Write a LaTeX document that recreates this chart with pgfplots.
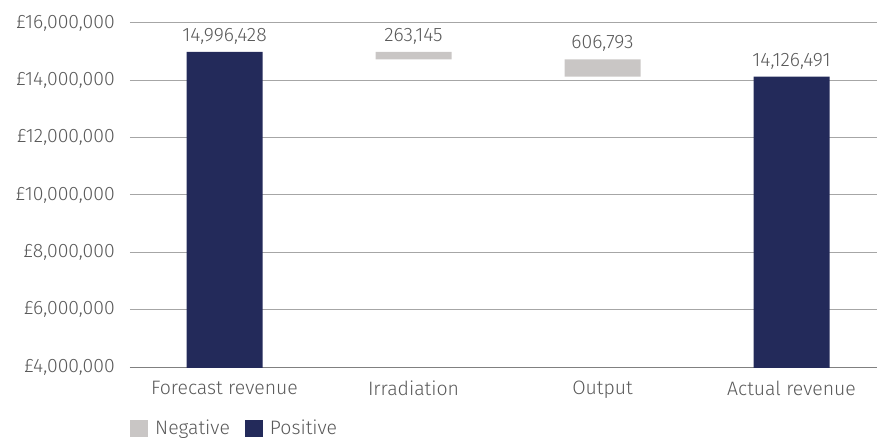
\documentclass[border=0pt]{standalone}
\usepackage{pgfplots}
\pgfplotsset{compat=1.18}
\usepackage{fontspec}
\setmainfont{Fira Sans Light}
\definecolor{navy}{HTML}{232A5A}
\definecolor{negc}{HTML}{C9C6C5}
\definecolor{txt}{HTML}{595959}
\definecolor{gridc}{HTML}{A6A6A6}
\definecolor{axc}{HTML}{808080}
\begin{document}
\fontsize{19.5}{22}\selectfont
\begin{tikzpicture}
\begin{axis}[
    at={(0,0)}, anchor=south west,
    scale only axis,
    width=746.6bp, height=344bp,
    ybar stacked, bar width=76bp,
    xmin=-0.5, xmax=3.45,
    ymin=4000000, ymax=16000000,
    enlargelimits=false,
    scaled y ticks=false,
    xtick=data,
    xticklabels={Forecast revenue, Irradiation, Output, Actual revenue},
    ytick={4000000,6000000,8000000,10000000,12000000,14000000,16000000},
    yticklabels={{£4,000,000},{£6,000,000},{£8,000,000},{£10,000,000},{£12,000,000},{£14,000,000},{£16,000,000}},
    ymajorgrids, grid style={gridc, line width=1bp},
    axis x line*=bottom, axis y line*=left,
    x axis line style={axc, line width=1bp, -},
    y axis line style={draw=none},
    major tick length=0pt,
    tick label style={font=\fontsize{19.5}{22}\selectfont, text=txt},
    yticklabel style={inner sep=0pt, xshift=-15bp},
    xticklabel style={inner sep=0pt, yshift=-14bp},
    legend style={at={(0,0)}, anchor=north west, yshift=-51bp, draw=none, fill=none,
        inner sep=0pt, font=\fontsize{19.5}{22}\selectfont, text=txt,
        /tikz/every odd column/.append style={column sep=0bp},
        /tikz/every even column/.append style={column sep=8bp},
        nodes={inner xsep=7bp}},
    legend columns=2,
    legend image code/.code={\path[#1] (0bp,-8bp) rectangle (18bp,9bp);},
]
% invisible base
\addplot[draw=none, fill=none, forget plot] coordinates {(0,0) (1,14733283) (2,14126490) (3,0)};
\addplot[draw=none, fill=negc] coordinates {(0,0) (1,263145) (2,606793) (3,0)};
\addplot[draw=none, fill=navy] coordinates {(0,14996428) (1,0) (2,0) (3,14126491)};
\legend{Negative, Positive}
\node[above, text=txt, yshift=1bp] at (axis cs:0,14996428) {14,996,428};
\node[above, text=txt, yshift=1bp] at (axis cs:1,14996428) {263,145};
\node[above, text=txt, yshift=1bp] at (axis cs:2,14733283) {606,793};
\node[above, text=txt, yshift=1bp] at (axis cs:3,14126491) {14,126,491};
\end{axis}
\pgfresetboundingbox
\path[use as bounding box] (-130bp,-72bp) rectangle (747bp,367bp);
\end{tikzpicture}
\end{document}
